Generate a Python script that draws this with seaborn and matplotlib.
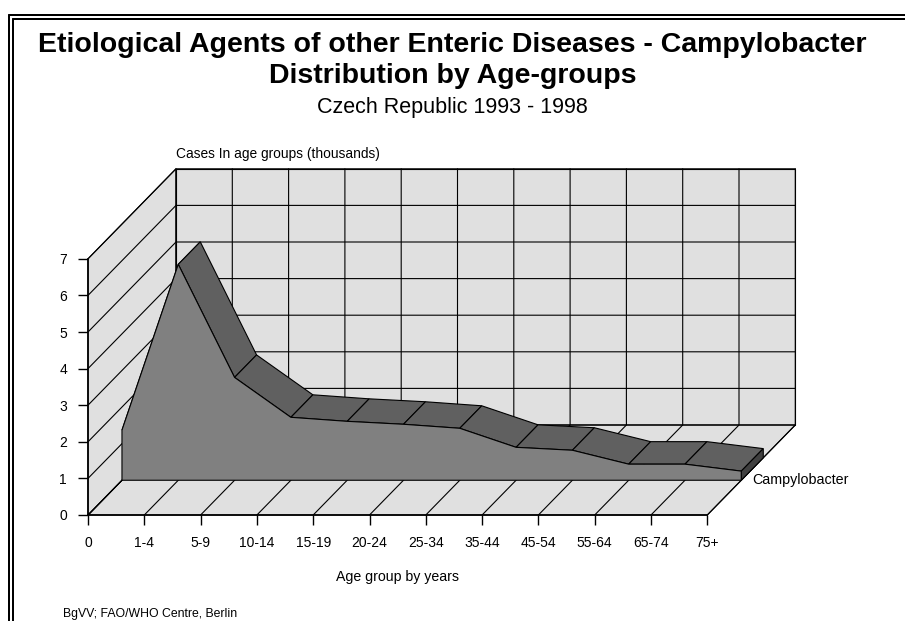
import numpy as np
import matplotlib.pyplot as plt
import seaborn as sns
from matplotlib.patches import Polygon
from matplotlib.lines import Line2D

# data (thousands of cases)
age_groups = ["0", "1-4", "5-9", "10-14", "15-19", "20-24", "25-34",
              "35-44", "45-54", "55-64", "65-74", "75+"]
cases = [1.37, 5.9, 2.81, 1.72, 1.61, 1.53, 1.42, 0.90, 0.82, 0.44, 0.44, 0.25]
y_ticks = [0, 1, 2, 3, 4, 5, 6, 7]
series_name = "Campylobacter"

sns.set_theme(style="white")
plt.rcParams['font.family'] = ['Liberation Sans', 'DejaVu Sans']
plt.rcParams['text.color'] = 'black'

W, H = 905, 621
fig = plt.figure(figsize=(W / 100, H / 100), dpi=100)

# oblique 3d look: pixel size of one category / one unit, and of the depth
ux, uy = 56.3, 36.6
depth_px = (88, 90)
n = len(age_groups) - 1
ymax = y_ticks[-1]
DX, DY = depth_px[0] / ux, depth_px[1] / uy
x0, y0 = 88, 515  # origin in pixels (from top)

ax = fig.add_axes([x0 / W, (H - y0) / H,
                   (n * ux + depth_px[0]) / W, (ymax * uy + depth_px[1]) / H])
ax.set_xlim(0, n + DX)
ax.set_ylim(0, ymax + DY)


def proj(x, v, d):
    return x + d * DX, v + d * DY


def pt(px):
    return px * 72 / 100


wall = "#e0e0e0"
lw = 0.8
kw = dict(clip_on=False)

# back wall, floor, side wall
ax.add_patch(Polygon([proj(0, 0, 1), proj(n, 0, 1), proj(n, ymax, 1), proj(0, ymax, 1)],
                     fc=wall, ec="black", lw=lw, zorder=1, **kw))
ax.add_patch(Polygon([proj(0, 0, 0), proj(n, 0, 0), proj(n, 0, 1), proj(0, 0, 1)],
                     fc=wall, ec="black", lw=lw, zorder=1, **kw))
ax.add_patch(Polygon([proj(0, 0, 0), proj(0, 0, 1), proj(0, ymax, 1), proj(0, ymax, 0)],
                     fc=wall, ec="black", lw=lw, zorder=1, **kw))
for v in y_ticks:
    a, b = proj(0, v, 0), proj(0, v, 1)
    c = proj(n, v, 1)
    ax.plot([a[0], b[0], c[0]], [a[1], b[1], c[1]], color="black", lw=lw, zorder=2, **kw)
for i in range(n + 1):
    a, b = proj(i, 0, 0), proj(i, 0, 1)
    c = proj(i, ymax, 1)
    ax.plot([a[0], b[0], c[0]], [a[1], b[1], c[1]], color="black", lw=lw, zorder=2, **kw)

# the area series as a slab between depth d0 and d1
d0, d1 = 0.386, 0.636
xs = np.arange(len(cases))
for i in range(n):
    band = [proj(xs[i], cases[i], d0), proj(xs[i + 1], cases[i + 1], d0),
            proj(xs[i + 1], cases[i + 1], d1), proj(xs[i], cases[i], d1)]
    ax.add_patch(Polygon(band, fc="#606060", ec="black", lw=lw, zorder=3, **kw))
end = [proj(xs[-1], 0, d0), proj(xs[-1], cases[-1], d0),
       proj(xs[-1], cases[-1], d1), proj(xs[-1], 0, d1)]
ax.add_patch(Polygon(end, fc="#404040", ec="black", lw=lw, zorder=3, **kw))
front = [proj(xs[0], 0, d0)] + [proj(x, v, d0) for x, v in zip(xs, cases)] + [proj(xs[-1], 0, d0)]
ax.add_patch(Polygon(front, fc="#808080", ec="black", lw=lw, zorder=4, **kw))

ax.annotate(series_name, xy=proj(xs[-1], 0, d0), xytext=(pt(11), 0),
            textcoords="offset points", ha="left", va="center", fontsize=10.3)

# axes
for s in ["top", "right"]:
    ax.spines[s].set_visible(False)
ax.spines["left"].set_bounds(0, ymax)
ax.spines["bottom"].set_bounds(0, n)
for s in ["left", "bottom"]:
    ax.spines[s].set_color("black")
    ax.spines[s].set_linewidth(1.2)
    ax.spines[s].set_zorder(5)
ax.set_xticks(xs, age_groups)
ax.set_yticks(y_ticks)
ax.tick_params(direction="out", length=pt(10), width=1, color="black",
               labelsize=10, labelcolor="black", left=True, bottom=True)
ax.tick_params(axis="x", pad=pt(11))
ax.tick_params(axis="y", pad=pt(11))
ax.grid(False)
ax.patch.set_alpha(0)

ax.annotate("Cases In age groups (thousands)", xy=proj(0, ymax, 1), xytext=(0, pt(8)),
            textcoords="offset points", ha="left", va="bottom", fontsize=9.9)
ax.annotate("Age group by years", xy=(n / 2, 0), xytext=(0, -pt(62)),
            textcoords="offset points", ha="center", va="center", fontsize=10.2)

# titles
fig.text(0.5, 1 - 45 / H, "Etiological Agents of other Enteric Diseases - Campylobacter",
         ha="center", va="center", fontsize=20.5, fontweight="bold")
fig.text(0.5, 1 - 76 / H, "Distribution by Age-groups",
         ha="center", va="center", fontsize=20.5, fontweight="bold")
fig.text(0.5, 1 - 107 / H, "Czech Republic 1993 - 1998",
         ha="center", va="center", fontsize=15.5)
fig.text(63 / W, 1 - 614 / H, "BgVV; FAO/WHO Centre, Berlin",
         ha="left", va="center", fontsize=8.8)

# double frame
for off, lwf in [(9, 2), (13, 2)]:
    yy = off + 6
    fig.add_artist(Line2D([off / W, off / W], [0, 1 - yy / H], color="black", lw=pt(lwf),
                          transform=fig.transFigure))
    fig.add_artist(Line2D([off / W, 1], [1 - yy / H, 1 - yy / H], color="black", lw=pt(lwf),
                          transform=fig.transFigure))

fig.savefig("out.png", dpi=100)
